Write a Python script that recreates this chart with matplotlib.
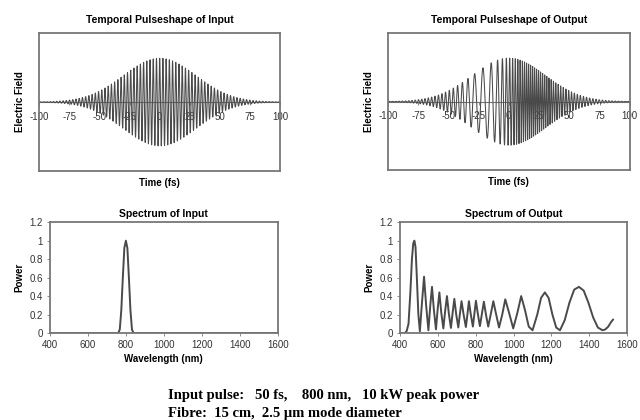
import numpy as np
import matplotlib
matplotlib.use("Agg")
import matplotlib.pyplot as plt

# pulse parameters (from the caption) and SPM phase
pulse_fwhm_fs = 50.0
wavelength_nm = 800.0
spm_phase = 52.0

time_ticks = [-100, -75, -50, -25, 0, 25, 50, 75, 100]

# spectrum of input
in_wl = [400, 760, 768, 776, 784, 792, 800, 808, 816, 824, 832, 840, 1600]
in_pow = [0, 0, 0.04, 0.25, 0.6, 0.92, 1.0, 0.92, 0.6, 0.25, 0.04, 0, 0]

# spectrum of output
out_wl = [400, 425, 435, 445, 455, 463, 470, 476, 482, 489, 497, 505,
          515, 527, 538, 550, 560, 569, 579, 590, 599, 608, 618, 629,
          638, 648, 658, 669, 678, 687, 697, 708, 716, 725, 736, 748,
          756, 764, 774, 785, 793, 801, 811, 822, 832, 843, 854, 866,
          879, 893, 908, 923, 940, 956, 976, 998, 1020, 1040, 1060,
          1080, 1100, 1125, 1145, 1165, 1185, 1205, 1225, 1245, 1270,
          1295, 1320, 1345, 1370, 1395, 1420, 1445, 1470, 1485, 1500,
          1515, 1525]
out_pow = [0, 0, 0.02, 0.1, 0.45, 0.8, 0.97, 1.0, 0.93, 0.6, 0.2, 0.02,
           0.3, 0.61, 0.3, 0.03, 0.3, 0.5, 0.25, 0.04, 0.26, 0.44, 0.22, 0.05,
           0.23, 0.40, 0.21, 0.055, 0.22, 0.37, 0.2, 0.06, 0.2, 0.345, 0.2, 0.065,
           0.2, 0.345, 0.2, 0.07, 0.21, 0.35, 0.21, 0.075, 0.2, 0.34, 0.2, 0.07,
           0.2, 0.345, 0.2, 0.06, 0.2, 0.365, 0.22, 0.05, 0.22, 0.40, 0.25,
           0.07, 0.03, 0.2, 0.38, 0.44, 0.38, 0.2, 0.06, 0.03, 0.14,
           0.33, 0.47, 0.50, 0.46, 0.33, 0.17, 0.06, 0.03, 0.04, 0.07,
           0.12, 0.145]

# fields
t = np.linspace(-100, 100, 6000)
omega0 = 2 * np.pi * 299.792458 / wavelength_nm  # rad/fs
intensity = np.exp(-4 * np.log(2) * t**2 / pulse_fwhm_fs**2)
envelope = np.sqrt(intensity)
field_in = envelope * np.cos(omega0 * t)
field_out = envelope * np.cos(omega0 * t - spm_phase * intensity)

plt.rcParams['font.family'] = ['Liberation Sans', 'DejaVu Sans']
plt.rcParams['axes.unicode_minus'] = False

line_col = '#4a4a4a'
frame_col = '#777777'
text_col = '#333333'


def style_frame(ax):
    for s in ax.spines.values():
        s.set_color(frame_col)
        s.set_linewidth(1.3)


def pulse_axes(ax, field, title):
    ax.plot(t, field, color=line_col, lw=0.75)
    ax.set_xlim(-100, 100)
    ax.set_ylim(-1.57, 1.57)
    ax.set_xticks([])
    ax.set_yticks([])
    style_frame(ax)
    ax.set_title(title, fontsize=7.5, fontweight='bold', pad=7)
    ax.set_xlabel('Time (fs)', fontsize=7, fontweight='bold', labelpad=5)
    ax.set_ylabel('Electric Field', fontsize=7, fontweight='bold', labelpad=10)
    sec = ax.secondary_xaxis(0.5)
    sec.set_alignment('bottom')
    sec.set_xticks(time_ticks)
    sec.tick_params(length=2, width=0.6, colors=frame_col, labelcolor=text_col,
                    labelsize=7, pad=5)
    sec.spines['bottom'].set_color(frame_col)
    sec.spines['bottom'].set_linewidth(0.8)


def spectrum_axes(ax, wl, pw, title):
    ax.plot(wl, pw, color=line_col, lw=1.4)
    ax.set_xlim(400, 1600)
    ax.set_ylim(0, 1.2)
    ax.set_xticks(np.arange(400, 1601, 200))
    ax.set_yticks([0, 0.2, 0.4, 0.6, 0.8, 1, 1.2])
    ax.set_yticklabels(['0', '0.2', '0.4', '0.6', '0.8', '1', '1.2'])
    ax.tick_params(length=2, width=0.6, colors=frame_col, labelcolor=text_col,
                   labelsize=7, pad=3)
    style_frame(ax)
    ax.set_title(title, fontsize=7.5, fontweight='bold', pad=4)
    ax.set_xlabel('Wavelength (nm)', fontsize=7, fontweight='bold', labelpad=3)
    ax.set_ylabel('Power', fontsize=7, fontweight='bold', labelpad=4)


fig = plt.figure(figsize=(6.4, 4.2), dpi=100)
ax1 = fig.add_axes([0.061, 0.593, 0.377, 0.328])
ax2 = fig.add_axes([0.606, 0.595, 0.378, 0.326])
ax3 = fig.add_axes([0.078, 0.207, 0.356, 0.264])
ax4 = fig.add_axes([0.625, 0.207, 0.355, 0.264])

pulse_axes(ax1, field_in, 'Temporal Pulseshape of Input')
pulse_axes(ax2, field_out, 'Temporal Pulseshape of Output')
spectrum_axes(ax3, in_wl, in_pow, 'Spectrum of Input')
spectrum_axes(ax4, out_wl, out_pow, 'Spectrum of Output')

cap = dict(fontsize=10.5, fontweight='bold', family=['Liberation Serif', 'DejaVu Serif'],
           ha='left', va='center')
fig.text(168 / 640, 1 - 395 / 420,
         'Input pulse:   50 fs,    800 nm,   10 kW peak power', **cap)
fig.text(168 / 640, 1 - 413 / 420,
         'Fibre:  15 cm,  2.5 \u00b5m mode diameter', **cap)

fig.savefig('out.png', dpi=100)
